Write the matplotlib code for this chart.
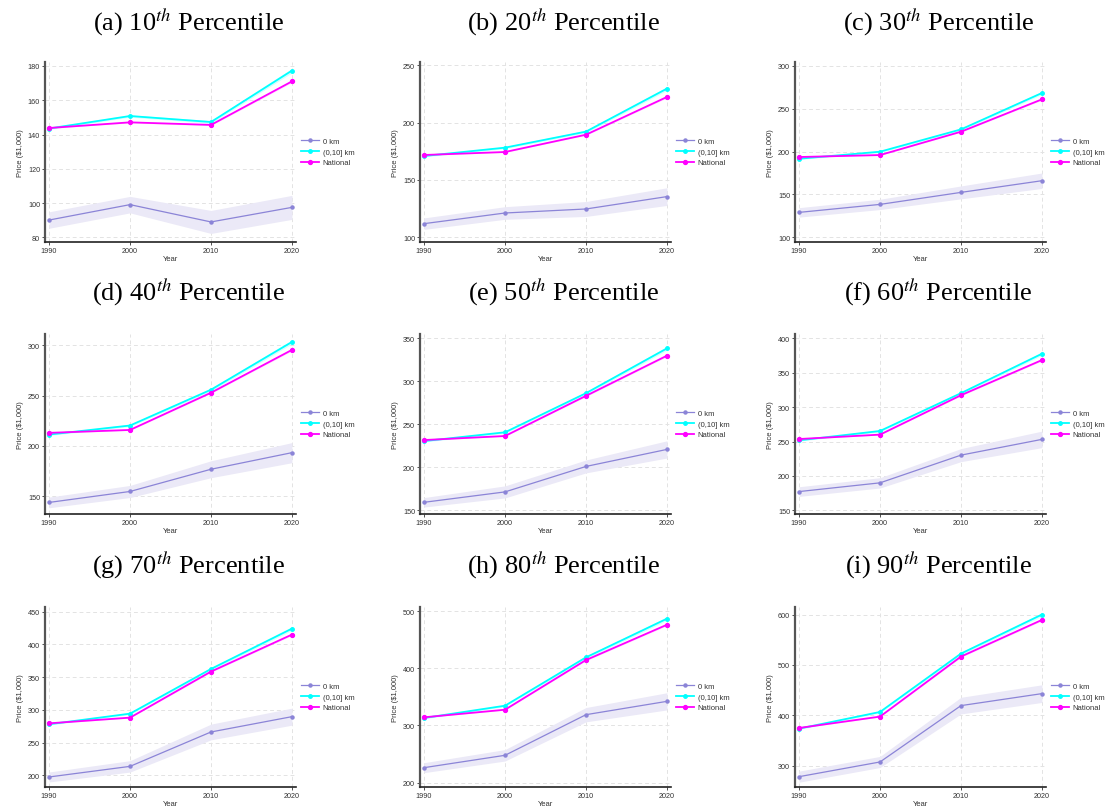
import matplotlib
matplotlib.use("Agg")
import matplotlib.pyplot as plt
import numpy as np

years = [1990, 2000, 2010, 2020]
panel_titles = [r"(a) 10$^{th}$ Percentile", r"(b) 20$^{th}$ Percentile", r"(c) 30$^{th}$ Percentile",
                r"(d) 40$^{th}$ Percentile", r"(e) 50$^{th}$ Percentile", r"(f) 60$^{th}$ Percentile",
                r"(g) 70$^{th}$ Percentile", r"(h) 80$^{th}$ Percentile", r"(i) 90$^{th}$ Percentile"]
series_labels = ["0 km", "(0,10] km", "National"]

zero_km = [
    [90.1, 99.1, 89.0, 97.5],
    [111.9, 121.2, 124.7, 135.5],
    [129.1, 138.4, 152.4, 166.0],
    [143.7, 154.6, 176.7, 193.2],
    [159.3, 171.4, 201.0, 220.8],
    [177.2, 189.9, 230.2, 253.1],
    [197.5, 213.7, 266.2, 289.6],
    [226.2, 247.8, 318.8, 342.1],
    [278.1, 307.3, 419.2, 443.0],
]
zero_km_ci = [
    [4.8, 4.8, 6.7, 7.0],
    [5.0, 5.5, 6.5, 7.7],
    [5.5, 6.0, 7.5, 9.0],
    [5.3, 6.0, 8.4, 10.0],
    [5.5, 7.0, 7.5, 10.0],
    [7.0, 7.5, 9.5, 12.0],
    [7.6, 8.7, 12.0, 13.0],
    [8.7, 10.0, 12.5, 15.0],
    [11.0, 11.0, 16.5, 17.5],
]
ring_0_10 = [
    [143.5, 150.8, 147.3, 177.3],
    [170.9, 178.2, 192.2, 229.7],
    [191.6, 199.8, 225.8, 268.2],
    [211.2, 220.2, 255.8, 303.3],
    [230.5, 240.7, 286.2, 338.3],
    [251.7, 265.3, 320.3, 377.6],
    [278.0, 294.2, 362.4, 424.0],
    [313.0, 334.5, 419.0, 486.6],
    [373.5, 406.6, 522.5, 600.0],
]
ring_ci = [
    [0.6, 0.7, 0.8, 1.3],
    [0.8, 0.9, 1.1, 1.6],
    [0.9, 1.0, 1.3, 1.8],
    [1.0, 1.1, 1.5, 2.0],
    [1.1, 1.2, 1.7, 2.2],
    [1.2, 1.4, 1.9, 2.5],
    [1.3, 1.5, 2.2, 2.8],
    [1.5, 1.7, 2.5, 3.2],
    [1.8, 2.0, 3.0, 3.8],
]
national = [
    [143.8, 147.1, 145.6, 171.0],
    [171.8, 174.4, 189.5, 222.4],
    [193.6, 195.9, 223.1, 260.8],
    [212.9, 215.8, 252.8, 295.4],
    [231.7, 236.4, 283.1, 329.8],
    [253.6, 260.0, 317.3, 368.4],
    [279.4, 288.1, 358.4, 414.9],
    [314.2, 327.5, 414.3, 476.0],
    [374.8, 397.4, 516.6, 589.4],
]
y_ticks = [
    [80, 100, 120, 140, 160, 180],
    [100, 150, 200, 250],
    [100, 150, 200, 250, 300],
    [150, 200, 250, 300],
    [150, 200, 250, 300, 350],
    [150, 200, 250, 300, 350, 400],
    [200, 250, 300, 350, 400, 450],
    [200, 300, 400, 500],
    [300, 400, 500, 600],
]
y_limits = [
    (77.3, 182.3), (95.9, 252.9), (94.6, 304.3),
    (132.2, 311.2), (145.7, 355.0), (144.6, 406.3),
    (182.2, 457.0), (192.4, 507.0), (257.6, 615.0),
]

c_zero = "#8b84d7"
c_band = "#ebe9f7"
c_ring = "#00ffff"
c_nat = "#ff00ff"

plt.rcParams["mathtext.fontset"] = "stix"
W, H = 1114, 812
fig = plt.figure(figsize=(W / 100, H / 100), dpi=100)

col_left = [45, 420, 795]
col_width = 251
row_top = [63, 335, 608]
row_height = 180
title_y = [22, 292, 565]

for k in range(9):
    r, c = divmod(k, 3)
    ax = fig.add_axes([col_left[c] / W, 1 - (row_top[r] + row_height) / H,
                       col_width / W, row_height / H])
    z = np.array(zero_km[k]); zc = np.array(zero_km_ci[k])
    rg = np.array(ring_0_10[k]); rc = np.array(ring_ci[k])
    nt = np.array(national[k])
    ax.fill_between(years, z - zc, z + zc, color=c_band, lw=0, zorder=1)
    ax.fill_between(years, rg - rc, rg + rc, color=c_ring, alpha=0.18, lw=0, zorder=1)
    ax.fill_between(years, nt - rc * 0.5, nt + rc * 0.5, color=c_nat, alpha=0.15, lw=0, zorder=1)
    ax.plot(years, z, color=c_zero, lw=0.9, marker="o", ms=2.2, label=series_labels[0], zorder=3)
    ax.plot(years, rg, color=c_ring, lw=1.3, marker="o", ms=2.5, label=series_labels[1], zorder=4)
    ax.plot(years, nt, color=c_nat, lw=1.3, marker="o", ms=2.8, label=series_labels[2], zorder=5)

    ax.set_xlim(1989.5, 2020.5)
    ax.set_ylim(*y_limits[k])
    ax.set_xticks(years)
    ax.set_yticks(y_ticks[k])
    ax.grid(True, ls=(0, (4, 3)), color="#e3e3e3", lw=0.7, zorder=0)
    ax.set_axisbelow(True)
    for s in ["top", "right"]:
        ax.spines[s].set_visible(False)
    ax.spines["left"].set_color("#555555")
    ax.spines["left"].set_linewidth(1.6)
    ax.spines["bottom"].set_color("#222222")
    ax.spines["bottom"].set_linewidth(1.2)
    ax.tick_params(axis="both", labelsize=5.2, length=2, width=0.6, pad=1.5, colors="#333333",
                   labelcolor="#333333")
    for lab in ax.get_xticklabels() + ax.get_yticklabels():
        lab.set_family("Liberation Sans")
    ax.set_xlabel("Year", fontsize=5.5, family="Liberation Sans", color="#333333", labelpad=1)
    ax.set_ylabel("Price ($1,000)", fontsize=5.5, family="Liberation Sans", color="#333333", labelpad=3)
    leg = ax.legend(loc="center left", bbox_to_anchor=(1.0, 0.5), frameon=False,
                    prop={"family": "Liberation Sans", "size": 5.5}, handlelength=2.3,
                    labelspacing=0.42, handletextpad=0.5, borderaxespad=0.3)
    for t in leg.get_texts():
        t.set_color("#333333")
    cx = (col_left[c] + col_width / 2 + 18) / W
    fig.text(cx, 1 - title_y[r] / H, panel_titles[k], ha="center", va="center",
             fontsize=19, family="Liberation Serif")

fig.savefig("out.png", dpi=100)
